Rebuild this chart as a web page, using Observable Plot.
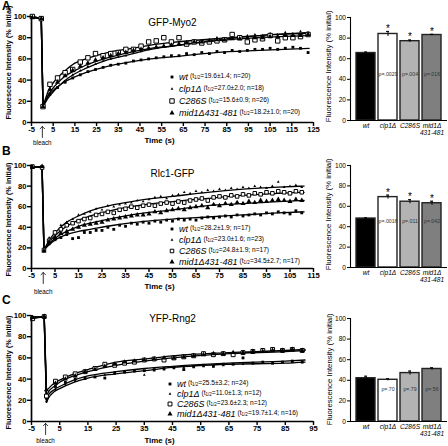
<!DOCTYPE html>
<html><head><meta charset="utf-8">
<script src="https://cdn.jsdelivr.net/npm/d3@7"></script>
<script src="https://cdn.jsdelivr.net/npm/@observablehq/plot@0.6"></script>
<style>
body{margin:0;background:#fff;font-family:"Liberation Sans",Arial,Helvetica,sans-serif;}
#fig{position:relative;width:448px;height:446px;overflow:hidden;background:#fff;}
.lp g[aria-label="x-axis tick label"], .lp g[aria-label="y-axis tick label"]{font-weight:bold;}
.bp g[aria-label="x-axis tick label"]{font-style:italic;}
.leg{position:absolute;white-space:nowrap;display:flex;align-items:center;height:12px;line-height:12px;}
.leg .nm{font-size:9px;font-style:italic;margin-left:1px;}
.leg .st{font-size:6.6px;margin-left:2px;}
.leg sub{font-size:4.5px;vertical-align:-1px;}
.pl{position:absolute;font-weight:bold;font-size:12px;}
.vt{position:absolute;white-space:nowrap;line-height:1;}
.vt.b{font-weight:bold;font-size:7px;}
.vt.n{font-size:6.8px;}
</style></head><body><div id="fig"></div>
<script>
// ---------- shared ----------
const seriesNames = ["wt", "clp1Δ", "C286S", "mid1Δ431-481"];
const categories = ["wt", "clp1Δ", "C286S", "mid1Δ\n431-481"];
const barFills = ["#000000", "#ffffff", "#b3b3b3", "#7f7f7f"];
const yTicks = [0, 20, 40, 60, 80, 100];
const yTitle = "Fluorescence Intensity (% initial)";
const preTimes = [-4.6, -0.5];

// ---------- panel A : GFP-Myo2 ----------
const xTicksA = [-5, 5, 15, 25, 35, 45, 55, 65, 75, 85, 95, 105, 115, 125];
const tA = [0.3, 3.5, 7, 10.5, 14, 17.5, 21, 24.5, 28, 31.5, 35, 38.5, 42, 45.5, 49, 52.5, 56, 59.5, 63, 66.5, 70, 73.5, 77, 80.5, 84, 87.5, 91, 94.5, 98, 101.5, 105, 108.5, 112, 115.5, 119, 122.5];
const aWt = [15, 27, 33, 38, 42, 45, 48, 50, 52, 54, 55, 56, 58, 59, 60, 61, 62, 63, 63, 65, 64, 66, 65, 67, 66, 68, 67, 68, 69, 69, 70, 69, 70, 71, 70, 66];
const aClp = [15, 26, 33, 39, 45, 49, 53, 55, 58, 60, 62, 63, 66, 67, 69, 70, 72, 72, 74, 75, 76, 77, 78, 80, 79, 81, 80, 82, 83, 82, 84, 83, 85, 84, 86, 85];
const aC286S = [15, 36, 42, 47, 50, 57, 61, 65, 63, 65, 66, 69, 69, 72, 76, 77, 80, 76, 80, 74, 76, 75, 76, 77, 78, 83, 80, 76, 78, 79, 82, 77, 80, 80, 81, 83];
const aMid = [15, 31, 38, 44, 49, 53, 56, 59, 61, 63, 65, 66, 68, 69, 70, 71, 72, 73, 74, 75, 76, 76, 77, 78, 78, 79, 79, 80, 80, 80, 81, 81, 82, 82, 82, 83];
const aPre = [[100, 98], [99, 98], [100, 98], [99, 98]];
const fitTA = [0.3, 3, 6, 10, 15, 20, 30, 40, 50, 60, 80, 100, 123];
const fitAWt = [15, 26, 32, 38, 43, 47, 53, 57, 60, 62, 66, 68, 70];
const fitAClp = [15, 24, 31, 39, 46, 51, 59, 64, 69, 72, 78, 82, 85];
const fitAC286S = [15, 31, 40, 48, 56, 60, 66, 69.5, 73, 75.5, 79, 82, 84];
const fitAMid = [15, 27, 35, 43, 49, 54, 61, 66, 70, 72, 77, 80, 82];
const statsA = ["19.6±1.4; n=20", "27.0±2.0; n=18", "15.6±0.9; n=26", "18.2±1.0; n=20"];
const barA = [65.5, 84, 77, 83];
const errA = [1, 2.5, 1.2, 0.7];
const pA = ["", "p=.0029", "p=.004", "p=.016"];
const starsA = ["", "*", "*", "*"];

// ---------- panel B : Rlc1-GFP ----------
const xTicksB = [-5, 5, 15, 25, 35, 45, 55, 65, 75, 85, 95, 105, 115];
const tB = [0.3, 2.5, 5, 7.5, 10, 12.5, 15, 17.5, 20, 22.5, 25, 27.5, 30, 32.5, 35, 37.5, 40, 42.5, 45, 47.5, 50, 52.5, 55, 57.5, 60, 62.5, 65, 67.5, 70, 72.5, 75, 77.5, 80, 82.5, 85, 87.5, 90, 92.5, 95, 97.5, 100, 102.5, 105, 107.5, 110];
const bWt = [17, 24, 28, 30, 33, 29, 30, 35, 35, 37, 37, 40, 38, 42, 41, 44, 43, 45, 44, 46, 45, 47, 46, 48, 47, 48, 47, 49, 50, 49, 50, 51, 50, 52, 51, 52, 53, 52, 54, 53, 55, 54, 53, 56, 54];
const bClp = [19, 30, 36, 42, 45, 48, 52, 53, 55, 58, 57, 61, 60, 62, 63, 64, 66, 65, 67, 69, 70, 68, 71, 72, 74, 73, 75, 74, 76, 75, 77, 76, 78, 77, 79, 78, 80, 79, 78, 80, 84, 79, 80, 81, 79];
const bC286S = [18, 27, 35, 38, 42, 44, 46, 48, 49, 52, 53, 55, 54, 57, 58, 60, 59, 61, 62, 61, 63, 64, 63, 65, 64, 66, 67, 68, 66, 69, 70, 69, 71, 70, 72, 71, 73, 72, 74, 73, 75, 74, 73, 75, 74];
const bMid = [17, 26, 30, 34, 36, 38, 40, 42, 43, 44, 45, 47, 48, 49, 50, 51, 52, 52, 53, 55, 54, 56, 57, 58, 57, 59, 60, 61, 59, 62, 61, 63, 62, 64, 63, 65, 64, 66, 65, 66, 67, 66, 65, 67, 66];
const bPre = [[99, 98], [98, 99], [99, 98], [98, 99]];
const fitTB = [0.3, 3, 6, 10, 15, 20, 30, 40, 55, 70, 85, 100, 111];
const fitBWt = [18, 24, 29, 33, 36, 38, 42, 45, 48, 50, 52, 54, 55];
const fitBClp = [18, 29, 37, 45, 51, 56, 62, 66, 70, 74, 77, 79, 80];
const fitBC286S = [18, 27, 34, 41, 47, 51, 57, 61, 65, 68, 71, 73, 74];
const fitBMid = [18, 25, 31, 36, 41, 44, 49, 53, 57, 61, 63, 65, 66];
const statsB = ["28.2±1.9; n=17", "23.0±1.6; n=23", "24.8±1.9; n=17", "34.5±2.7; n=17"];
const barB = [48, 69, 64.5, 63];
const errB = [0.8, 2, 2, 2];
const pB = ["", "p=.0016", "p=.011", "p=.042"];
const starsB = ["", "*", "*", "*"];

// ---------- panel C : YFP-Rng2 ----------
const xTicksC = [-5, 5, 15, 25, 35, 45, 55, 65, 75, 85, 95];
const tC = [0.3, 3.5, 7, 10.5, 14, 17.5, 21, 24.5, 28, 31.5, 35, 38.5, 42, 45.5, 49, 52.5, 56, 59.5, 63, 66.5, 70, 73.5, 77, 80.5, 84, 87.5, 91];
const cWt = [22, 33, 37, 40, 41, 42, 41, 46, 47, 48, 48, 49, 50, 51, 49, 52, 53, 52, 54, 54, 60, 55, 56, 55, 56, 57, 56];
const cClp = [19, 30, 35, 38, 40, 42, 44, 45, 46, 47, 44, 48, 49, 50, 51, 51, 52, 53, 53, 54, 54, 55, 55, 55, 56, 56, 56];
const cC286S = [24, 38, 42, 45, 47, 50, 54, 53, 55, 56, 58, 59, 58, 60, 61, 62, 64, 63, 64, 63, 65, 66, 67, 68, 67, 68, 67];
const cMid = [30, 36, 40, 43, 47, 49, 52, 54, 56, 57, 58, 59, 60, 60, 61, 62, 63, 64, 64, 65, 65, 66, 66, 67, 67, 68, 67];
const cPre = [[98, 99], [99, 98], [97, 99], [98, 99]];
const fitTC = [0.3, 1, 3, 5, 10, 15, 25, 35, 45, 65, 85, 92];
const fitCWt = [21, 25, 30, 33, 39, 43, 47, 50, 52, 55, 57, 58];
const fitCClp = [18, 22, 28, 31, 37, 41, 45, 48, 51, 54, 55, 56];
const fitCC286S = [24, 28, 33, 37, 43, 47, 53, 57, 60, 64, 66, 67];
const fitCMid = [29, 31, 36, 39, 45, 49, 56, 59, 62, 65, 67, 68];
const statsC = ["25.5±3.2; n=24", "11.0±1.3; n=12", "23.6±2.3; n=12", "19.7±1.4; n=16"];
const barC = [42, 40.5, 47, 51];
const errC = [2, 1, 2, 1.2];
const pC = ["", "p=.70", "p=.79", "p=.56"];
const starsC = ["", "", "", ""];

// ---------- drawing ----------
const FONT = '"Liberation Sans", Arial, Helvetica, sans-serif';
const fig = document.getElementById("fig");
function place(node, left, top) {
  node.style.position = "absolute";
  node.style.left = left + "px";
  node.style.top = top + "px";
  fig.appendChild(node);
}
function symbolSpec(sq) {
  return [
    {symbol: "square", fill: "black", stroke: "none", r: 1.6},
    {symbol: "triangle", fill: "black", stroke: "none", r: 1.05},
    {symbol: "square", fill: "white", stroke: "black", strokeWidth: 1, r: sq},
    {symbol: "triangle", fill: "black", stroke: "none", r: 1.9}
  ];
}

function vTitle(text, cls, cx, cy, len) {
  const d = document.createElement("div");
  d.className = "vt " + cls;
  d.textContent = text;
  fig.appendChild(d);
  const w = d.offsetWidth, h = d.offsetHeight;
  d.style.left = (cx - w / 2) + "px";
  d.style.top = (cy - h / 2) + "px";
  d.style.transform = `rotate(-90deg) scaleX(${len / w})`;
}

function linePanel(p) {
  const dots = [], preLine = [], fits = [];
  seriesNames.forEach((s, i) => {
    preTimes.forEach((t, j) => { dots.push({s, t, v: p.pre[i][j]}); preLine.push({s, t, v: p.pre[i][j]}); });
    preLine.push({s, t: p.times[0], v: p.values[i][0]});
    p.times.forEach((t, j) => dots.push({s, t, v: p.values[i][j]}));
    p.fitT.forEach((t, j) => fits.push({s, t, v: p.fits[i][j]}));
  });
  const spec = symbolSpec(p.sq);
  const svg = Plot.plot({
    width: 320, height: p.height,
    marginLeft: 31, marginRight: 7, marginTop: p.mt, marginBottom: p.mb,
    x: {domain: p.xDomain},
    y: {domain: [0, 100]},
    style: {fontFamily: FONT, fontSize: "7.6px", overflow: "visible", background: "transparent", maxWidth: "none", color: "black"},
    marks: [
      Plot.line(fits, {x: "t", y: "v", z: "s", curve: "monotone-x", stroke: "black", strokeWidth: 1.3}),
      Plot.line(preLine, {x: "t", y: "v", z: "s", stroke: "black", strokeWidth: 1.4}),
      ...seriesNames.map((s, i) => Plot.dot(dots.filter(d => d.s === s), {x: "t", y: "v", ...spec[i]})),
      Plot.ruleY([0], {strokeWidth: 1.7}),
      Plot.ruleX([p.xDomain[0]], {strokeWidth: 1.7}),
      Plot.axisX({ticks: p.xTicks, tickSize: 4, tickPadding: 0.5, tickFormat: d => String(d), strokeWidth: 1.4, label: null}),
      Plot.axisY({ticks: yTicks, tickSize: 4, tickPadding: 1, strokeWidth: 1.4, label: null}),
      Plot.text([p.title], {frameAnchor: "top", lineAnchor: "middle", dy: p.titleDy, fontSize: 10}),
      Plot.text(["Time (s)"], {frameAnchor: "bottom", lineAnchor: "middle", dx: -13, dy: p.xTitleDy, fontWeight: "bold", fontSize: 7.9}),
      Plot.vector([0], {x: d => d, frameAnchor: "bottom", dy: p.arrowDy, length: 11, anchor: "start", strokeWidth: 0.8}),
      Plot.text(["bleach"], {x: [0], frameAnchor: "bottom", lineAnchor: "middle", dy: p.bleachDy, fontSize: 6.3})
    ]
  });
  svg.classList.add("lp");
  place(svg, 0, p.top);
  vTitle(yTitle, "b", 8, p.yTitleCy, 114);
  legend(p.stats, p.legX, p.legY, p.legDy, spec);
}

function barPanel(p) {
  const data = categories.map((c, i) => ({c, v: p.values[i], e: p.errors[i], p: p.pvals[i], star: p.stars[i]}));
  const svg = Plot.plot({
    width: 148, height: p.height,
    marginLeft: 50, marginRight: 1, marginTop: p.mt, marginBottom: p.mb,
    x: {domain: categories, paddingInner: 0.15, paddingOuter: 0.2},
    y: {domain: [0, 100]},
    style: {fontFamily: FONT, fontSize: "6.6px", overflow: "visible", background: "transparent", maxWidth: "none", color: "black"},
    marks: [
      ...data.map((d, i) => Plot.barY([d], {x: "c", y: "v", fill: barFills[i], stroke: "#222", strokeWidth: 1.4})),
      Plot.ruleX(data, {x: "c", y1: d => d.v - d.e, y2: d => d.v + d.e, stroke: "black", strokeWidth: 1}),
      Plot.tickY(data, {x: "c", y: d => d.v + d.e, insetLeft: 8, insetRight: 8, strokeWidth: 1}),
      Plot.text(data.filter(d => d.p), {x: "c", y: () => p.pY, text: "p", fontSize: 5.2, fill: "#333"}),
      Plot.text(data.filter(d => d.star), {x: "c", y: d => d.v + d.e, text: "star", dy: 0.5, lineAnchor: "bottom", fontSize: 10}),
      Plot.frame({anchor: "left", strokeWidth: 1.1}),
      Plot.ruleY([0], {strokeWidth: 1.1}),
      Plot.axisY({ticks: yTicks, tickSize: 3, tickPadding: 1.5, label: null}),
      Plot.axisX({tickSize: 0, tickPadding: 3, label: null})
    ]
  });
  svg.classList.add("bp");
  place(svg, 300, p.top);
  vTitle(yTitle, "n", p.yTitleCx, p.yTitleCy, 112);
}

function legend(stats, x, y0, dy, spec) {
  stats.forEach((st, i) => {
    const sp = spec[i];
    const path = d3.symbol(sp.symbol === "square" ? d3.symbolSquare : d3.symbolTriangle, Math.PI * sp.r * sp.r)();
    const row = document.createElement("div");
    row.className = "leg";
    row.innerHTML = `<svg width="10" height="12" style="overflow:visible"><path transform="translate(4,6)" d="${path}" fill="${sp.fill}" stroke="${sp.stroke}"/></svg><span class="nm">${seriesNames[i]}</span><span class="st">(t<sub>1/2</sub>=${st})</span>`;
    place(row, x, y0 + i * dy - 6);
  });
}

function panelLetter(t, x, y) {
  const d = document.createElement("div");
  d.className = "pl"; d.textContent = t;
  place(d, x, y);
}

linePanel({top: 0, height: 146, mt: 16, mb: 24, xDomain: [-5, 125], xTicks: xTicksA, times: tA,
  values: [aWt, aClp, aC286S, aMid], pre: aPre, fitT: fitTA, fits: [fitAWt, fitAClp, fitAC286S, fitAMid],
  title: "GFP-Myo2", titleDy: 6, xTitleDy: 18, arrowDy: 15, bleachDy: 20, sq: 2.5, yTitleCy: 62,
  stats: statsA, legX: 168, legY: 77, legDy: 12});
linePanel({top: 145, height: 150, mt: 20, mb: 27, xDomain: [-5, 115], xTicks: xTicksB, times: tB,
  values: [bWt, bClp, bC286S, bMid], pre: bPre, fitT: fitTB, fits: [fitBWt, fitBClp, fitBC286S, fitBMid],
  title: "Rlc1-GFP", titleDy: 8, xTitleDy: 17.5, arrowDy: 15, bleachDy: 23, sq: 2.0, yTitleCy: 219,
  stats: statsB, legX: 168, legY: 229, legDy: 11});
linePanel({top: 295, height: 151, mt: 20, mb: 25, xDomain: [-5, 95], xTicks: xTicksC, times: tC,
  values: [cWt, cClp, cC286S, cMid], pre: cPre, fitT: fitTC, fits: [fitCWt, fitCClp, fitCC286S, fitCMid],
  title: "YFP-Rng2", titleDy: 3, xTitleDy: 19, arrowDy: 13, bleachDy: 19.5, sq: 2.2, yTitleCy: 372,
  stats: statsC, legX: 166, legY: 384, legDy: 10});

barPanel({top: 0, height: 140, mt: 17, mb: 20, values: barA, errors: errA, pvals: pA, stars: starsA, pY: 45, yTitleCx: 329, yTitleCy: 66});
barPanel({top: 145, height: 145, mt: 20, mb: 23, values: barB, errors: errB, pvals: pB, stars: starsB, pY: 45, yTitleCx: 329, yTitleCy: 214});
barPanel({top: 295, height: 151, mt: 23, mb: 25, values: barC, errors: errC, pvals: pC, stars: starsC, pY: 31, yTitleCx: 330, yTitleCy: 369});

panelLetter("A", 2, -1);
panelLetter("B", 2, 144);
panelLetter("C", 2, 293);
</script></body></html>
